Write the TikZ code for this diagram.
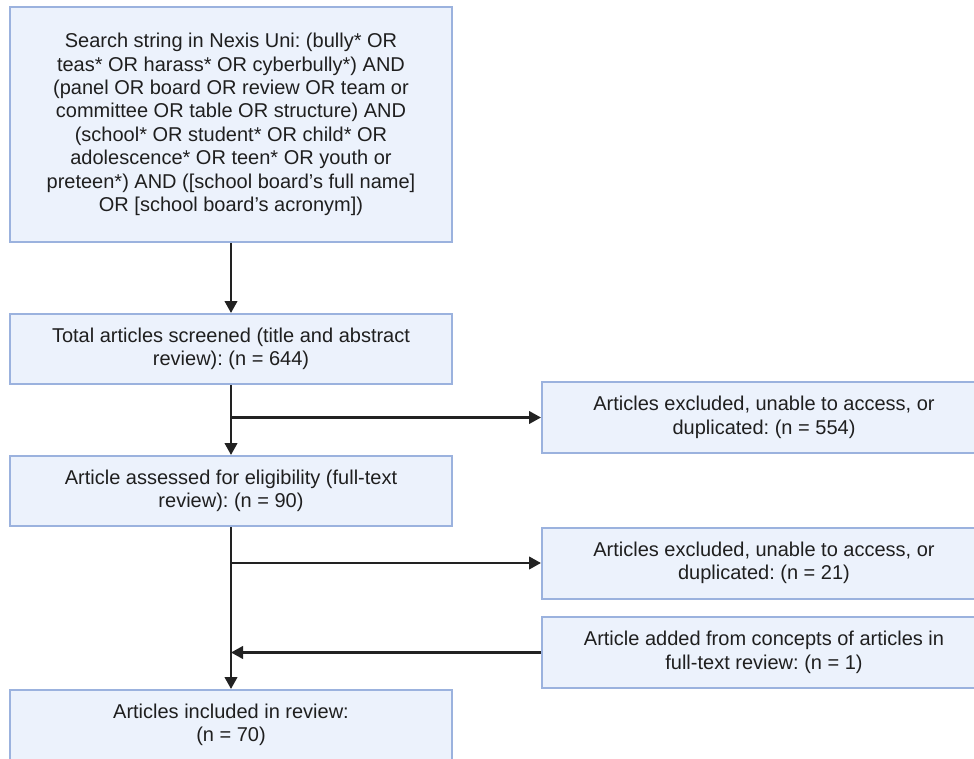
\documentclass[tikz,border=0pt]{standalone}
\usepackage{fontspec}
\setmainfont{Liberation Sans}
\usetikzlibrary{arrows.meta}
\definecolor{boxfill}{RGB}{236,242,252}
\definecolor{boxline}{RGB}{155,178,222}
\definecolor{arrcol}{RGB}{34,34,34}
\frenchspacing
\begin{document}
\begin{tikzpicture}[x=1pt,y=-1pt,
  box/.style={draw=boxline,fill=boxfill,line width=2pt,minimum width=442pt,inner sep=0pt,
    align=center,font=\fontsize{20}{23.4}\selectfont\frenchspacing,text=black!88},
  rbox/.style={box,minimum width=444pt,minimum height=71pt},
  arr/.style={draw=arrcol,line width=2.5pt,-{Triangle[length=12pt,width=12.5pt]}}]
\useasboundingbox (0,0) rectangle (974,759);
\clip (0,0) rectangle (974,759);
\node[box,minimum height=235pt] (b1) at (231,124.5) {Search string in Nexis Uni: (bully* OR\\teas* OR harass* OR cyberbully*) AND\\(panel OR board OR review OR team or\\committee OR table OR structure) AND\\(school* OR student* OR child* OR\\adolescence* OR teen* OR youth or\\preteen*) AND ([school board’s full name]\\OR [school board’s acronym])};
\node[box,minimum height=70pt] (b2) at (231,349) {Total articles screened (title and abstract\\review): (n = 644)};
\node[box,minimum height=70pt] (b3) at (231,491) {Article assessed for eligibility (full-text\\review): (n = 90)};
\node[box,minimum height=70pt] (b4) at (231,725) {Articles included in review:\\(n = 70)};
\node[rbox] (rA) at (764,417.5) {Articles excluded, unable to access, or\\duplicated: (n = 554)};
\node[rbox] (rB) at (764,563) {Articles excluded, unable to access, or\\duplicated: (n = 21)};
\node[rbox] (rC) at (764,652.5) {Article added from concepts of articles in\\full-text review: (n = 1)};
\draw[arr] (b1.south) -- (b2.north);
\draw[arr] (b2.south) -- (b3.north);
\draw[arr] (b2.south |- rA.west) -- (rA.west);
\draw[arr] (b3.south) -- (b4.north);
\draw[arr] (b3.south |- rB.west) -- (rB.west);
\draw[arr] (rC.west) -- (b3.south |- rC.west);
\end{tikzpicture}
\end{document}
